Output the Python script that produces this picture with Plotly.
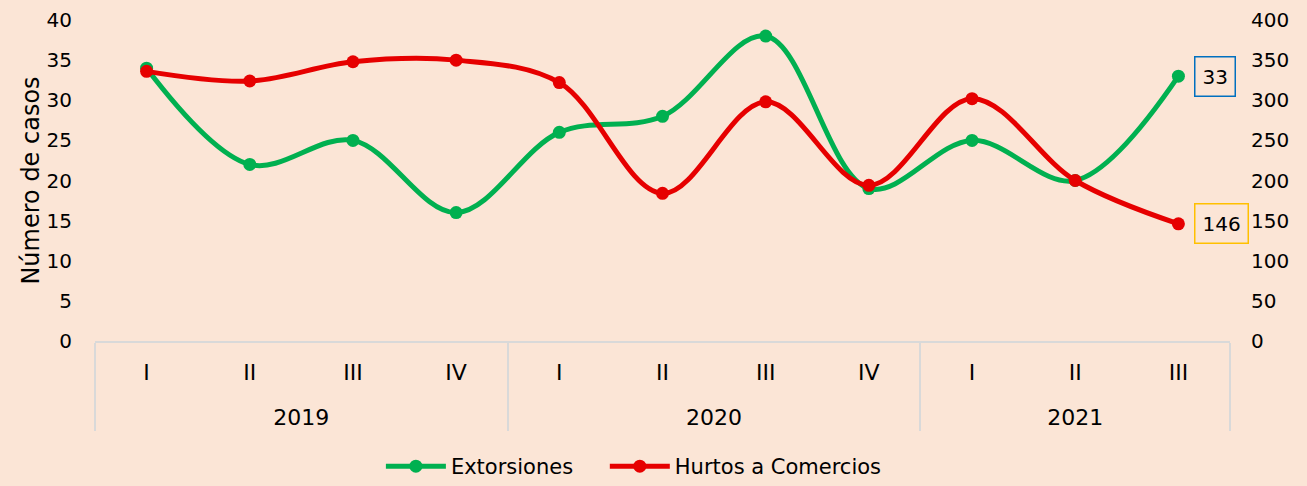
import plotly.graph_objects as go

years = ["2019"] * 4 + ["2020"] * 4 + ["2021"] * 3
quarters = ["I", "II", "III", "IV", "I", "II", "III", "IV", "I", "II", "III"]
extorsiones = [34, 22, 25, 16, 26, 28, 38, 19, 25, 20, 33]
hurtos = [336, 324, 348, 350, 322, 184, 298, 194, 302, 200, 146]

FONT = "DejaVu Sans"
BG = "#FBE5D6"
GREEN = "#00B050"
RED = "#E60000"

# year row sits one line lower than plotly's default spacing
year_labels = ["<br>" + y for y in years]

fig = go.Figure()
fig.add_trace(go.Scatter(
    x=[year_labels, quarters], y=extorsiones, name="Extorsiones\u00a0\u00a0\u00a0\u00a0",
    mode="lines+markers", line=dict(color=GREEN, width=5, shape="spline", smoothing=1.0),
    marker=dict(size=13, color=GREEN), yaxis="y"))
fig.add_trace(go.Scatter(
    x=[year_labels, quarters], y=hurtos, name="Hurtos a Comercios",
    mode="lines+markers", line=dict(color=RED, width=5, shape="spline", smoothing=1.0),
    marker=dict(size=13, color=RED), yaxis="y2"))

last = len(quarters) - 1
fig.add_annotation(x=last, y=extorsiones[-1], xref="x", yref="y", text=str(extorsiones[-1]),
                   showarrow=False, xshift=37, font=dict(family=FONT, size=20, color="#000"),
                   bordercolor="#0070C0", borderwidth=1.5, borderpad=7, bgcolor=BG)
fig.add_annotation(x=last, y=hurtos[-1], xref="x", yref="y2", text=str(hurtos[-1]),
                   showarrow=False, xshift=43, font=dict(family=FONT, size=20, color="#000"),
                   bordercolor="#FFC000", borderwidth=1.5, borderpad=7, bgcolor=BG)

fig.update_layout(
    width=1307, height=486,
    paper_bgcolor=BG, plot_bgcolor=BG,
    margin=dict(l=95, r=77, t=20, b=145),
    font=dict(family=FONT, size=20, color="#000"),
    showlegend=True,
    legend=dict(orientation="h", xref="container", x=0.485, xanchor="center",
                yref="container", y=0.04, yanchor="middle",
                font=dict(family=FONT, size=21), itemwidth=60, bgcolor="rgba(0,0,0,0)"),
    xaxis=dict(type="multicategory", showline=True, linecolor="#D9D9D9", linewidth=2,
               showgrid=False, ticks="", ticklabelstandoff=11,
               showdividers=True, dividercolor="#D9D9D9", automargin=False,
               dividerwidth=2, tickfont=dict(family=FONT, size=22), range=[-0.5, last + 0.5]),
    yaxis=dict(range=[0, 40], dtick=5, showgrid=False, zeroline=False, showline=False,
               ticks="", ticklabelstandoff=22, tickfont=dict(family=FONT, size=20),
               automargin=False,
               title=dict(text="Número de casos", font=dict(family=FONT, size=24), standoff=0)),
    yaxis2=dict(range=[0, 400], dtick=50, overlaying="y", side="right", showgrid=False,
                zeroline=False, showline=False, ticks="", ticklabelstandoff=20,
                automargin=False, tickfont=dict(family=FONT, size=20)),
)

fig.write_html("out.html", config={"displayModeBar": False},
               post_script="document.body.style.margin='0';document.body.style.background='#FBE5D6';")
